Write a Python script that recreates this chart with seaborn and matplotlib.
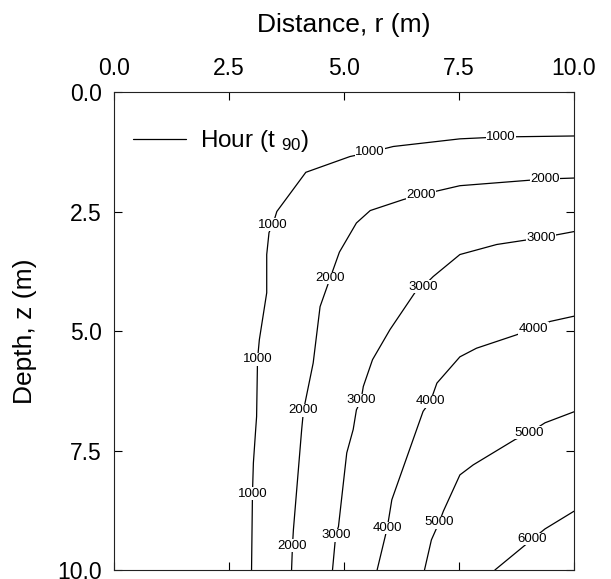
import matplotlib
matplotlib.use("Agg")
import matplotlib.pyplot as plt
from matplotlib.lines import Line2D
import pandas as pd
import seaborn as sns

# contour lines of t90 (hours): r (m) and z (m)
r_1000 = [10.0, 8.41, 7.52, 6.07, 5.57, 5.13, 4.17, 3.54, 3.45, 3.37, 3.32, 3.32, 3.16, 3.12, 3.10, 3.08, 3.03, 3.01, 2.99]
z_1000 = [0.92, 0.94, 0.98, 1.14, 1.26, 1.35, 1.68, 2.50, 2.78, 2.94, 3.40, 4.20, 5.18, 5.59, 6.79, 7.06, 7.76, 8.40, 10.0]
r_2000 = [10.0, 9.37, 7.52, 6.67, 6.29, 5.57, 5.27, 4.90, 4.70, 4.48, 4.33, 4.12, 4.08, 3.90, 3.88, 3.86]
z_2000 = [1.80, 1.82, 1.96, 2.15, 2.25, 2.48, 2.74, 3.35, 3.89, 4.49, 5.67, 6.66, 7.06, 9.16, 9.49, 10.0]
r_3000 = [10.0, 9.28, 8.32, 7.52, 6.94, 6.72, 6.54, 6.00, 5.62, 5.42, 5.37, 5.27, 5.20, 5.06, 4.88, 4.82, 4.75]
z_3000 = [2.92, 3.05, 3.19, 3.40, 3.86, 4.07, 4.20, 4.97, 5.60, 6.16, 6.45, 6.65, 7.06, 7.55, 9.09, 9.27, 10.0]
r_4000 = [10.0, 9.48, 9.12, 8.75, 7.88, 7.52, 7.02, 6.88, 6.72, 6.58, 6.04, 5.94, 5.72]
z_4000 = [4.69, 4.80, 4.95, 5.08, 5.36, 5.54, 6.09, 6.47, 6.68, 7.06, 8.53, 9.12, 10.0]
r_5000 = [10.0, 9.37, 9.03, 8.72, 7.81, 7.52, 7.16, 7.07, 6.90, 6.75]
z_5000 = [6.69, 6.92, 7.13, 7.27, 7.80, 8.01, 8.77, 9.00, 9.37, 10.0]
r_6000 = [10.0, 9.37, 9.10, 8.28]
z_6000 = [8.77, 9.14, 9.35, 10.0]

levels = [1000, 2000, 3000, 4000, 5000, 6000]
r_lines = [r_1000, r_2000, r_3000, r_4000, r_5000, r_6000]
z_lines = [z_1000, z_2000, z_3000, z_4000, z_5000, z_6000]

# inline contour labels
label_level = [1000, 1000, 1000, 1000, 1000,
               2000, 2000, 2000, 2000, 2000,
               3000, 3000, 3000, 3000,
               4000, 4000, 4000,
               5000, 5000,
               6000]
label_r = [8.41, 5.57, 3.45, 3.12, 3.01,
           9.37, 6.67, 4.70, 4.12, 3.88,
           9.28, 6.72, 5.37, 4.82,
           9.12, 6.88, 5.94,
           9.03, 7.07,
           9.10]
label_z = [0.94, 1.26, 2.78, 5.59, 8.40,
           1.82, 2.15, 3.89, 6.66, 9.49,
           3.05, 4.07, 6.45, 9.27,
           4.95, 6.47, 9.12,
           7.13, 9.00,
           9.35]

ticks = [0.0, 2.5, 5.0, 7.5, 10.0]

rows = []
for lev, rs, zs in zip(levels, r_lines, z_lines):
    for i, (r, z) in enumerate(zip(rs, zs)):
        rows.append({"level": lev, "order": i, "r": r, "z": z})
df = pd.DataFrame(rows)

sns.set_style("ticks")
plt.rcParams["font.family"] = ["Liberation Sans", "DejaVu Sans"]
plt.rcParams["mathtext.default"] = "regular"
for key in ["text.color", "axes.labelcolor", "xtick.color", "ytick.color"]:
    plt.rcParams[key] = "black"

fig = plt.figure(figsize=(6.11, 5.79), dpi=100)
ax = fig.add_axes([0.1866, 0.0155, 0.7528, 0.8256])

sns.lineplot(data=df, x="r", y="z", units="level", estimator=None, sort=False,
             color="black", linewidth=0.9, legend=False, ax=ax)

for lev, r, z in zip(label_level, label_r, label_z):
    ax.text(r, z, str(lev), fontsize=9.5, ha="center", va="center", zorder=5,
            bbox=dict(facecolor="white", edgecolor="none", pad=0.3))

ax.set_xlim(0, 10)
ax.set_ylim(10, 0)
ax.set_xticks(ticks)
ax.set_yticks(ticks)
ax.set_xticklabels([f"{t:.1f}" for t in ticks])
ax.set_yticklabels([f"{t:.1f}" for t in ticks])
ax.xaxis.tick_top()
ax.xaxis.set_label_position("top")
ax.tick_params(top=True, bottom=True, left=True, right=True,
               labeltop=True, labelbottom=False, direction="in",
               length=5.5, width=0.8, pad=9, labelsize=16.5)
for sp in ax.spines.values():
    sp.set_visible(True)
    sp.set_linewidth(0.8)
    sp.set_color("#222222")

ax.set_xlabel("Distance, r (m)", fontsize=19, labelpad=18)
ax.set_ylabel("Depth, z (m)", fontsize=19, labelpad=14)

handle = Line2D([], [], color="black", linewidth=0.9)
ax.legend([handle], ["Hour (t $_{90}$)"], loc="center left",
          bbox_to_anchor=(0.041, 0.897), frameon=False, fontsize=17.5,
          handlelength=2.2, handletextpad=0.55, borderpad=0, borderaxespad=0)

fig.savefig("out.png", dpi=100)
